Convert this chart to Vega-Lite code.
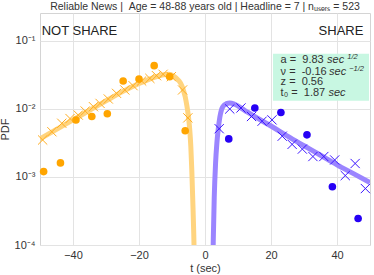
{
  "$schema": "https://vega.github.io/schema/vega-lite/v6.json",
  "width": 330,
  "height": 232,
  "autosize": {"type": "none"},
  "padding": {"left": 40, "top": 13, "right": 4, "bottom": 30},
  "background": "white",
  "title": {
    "text": "Reliable News | \u00a0Age = 48-88 years old | Headline = 7 | nᵤₛₑᵣₛ = 523",
    "font": "Liberation Sans",
    "fontSize": 10.5,
    "fontWeight": "normal",
    "color": "#333333",
    "anchor": "middle",
    "offset": 1
  },
  "config": {
    "view": {"stroke": "#d4d4d4", "strokeWidth": 1},
    "axis": {
      "labelFont": "Liberation Sans",
      "titleFont": "Liberation Sans",
      "labelFontSize": 11,
      "titleFontSize": 11,
      "titleFontWeight": "normal",
      "labelColor": "#333333",
      "titleColor": "#333333",
      "gridColor": "#e3e3e3",
      "gridWidth": 1,
      "domain": false,
      "ticks": false
    }
  },
  "datasets": {
    "fit": [
      {"side": "not", "t": -50, "pdf": 0.00363},
      {"side": "not", "t": -45, "pdf": 0.00501},
      {"side": "not", "t": -40, "pdf": 0.00692},
      {"side": "not", "t": -35, "pdf": 0.00955},
      {"side": "not", "t": -30, "pdf": 0.01318},
      {"side": "not", "t": -25, "pdf": 0.0180},
      {"side": "not", "t": -20, "pdf": 0.0237},
      {"side": "not", "t": -16, "pdf": 0.0285},
      {"side": "not", "t": -13, "pdf": 0.0316},
      {"side": "not", "t": -11, "pdf": 0.0324},
      {"side": "not", "t": -9.5, "pdf": 0.0305},
      {"side": "not", "t": -8, "pdf": 0.0263},
      {"side": "not", "t": -7, "pdf": 0.0219},
      {"side": "not", "t": -6.5, "pdf": 0.0186},
      {"side": "not", "t": -6, "pdf": 0.0151},
      {"side": "not", "t": -5.5, "pdf": 0.0112},
      {"side": "not", "t": -5, "pdf": 0.00759},
      {"side": "not", "t": -4.6, "pdf": 0.00479},
      {"side": "not", "t": -4.3, "pdf": 0.00282},
      {"side": "not", "t": -4.0, "pdf": 0.00126},
      {"side": "not", "t": -3.7, "pdf": 0.000447},
      {"side": "not", "t": -3.4, "pdf": 0.000141},
      {"side": "not", "t": -3.2, "pdf": 0.00005},
      {"side": "share", "t": 2.3, "pdf": 0.000025},
      {"side": "share", "t": 2.5, "pdf": 0.000112},
      {"side": "share", "t": 2.8, "pdf": 0.0005},
      {"side": "share", "t": 3.2, "pdf": 0.00158},
      {"side": "share", "t": 3.6, "pdf": 0.00316},
      {"side": "share", "t": 4.0, "pdf": 0.00501},
      {"side": "share", "t": 4.5, "pdf": 0.00759},
      {"side": "share", "t": 5.0, "pdf": 0.00977},
      {"side": "share", "t": 5.5, "pdf": 0.01096},
      {"side": "share", "t": 6.5, "pdf": 0.0120},
      {"side": "share", "t": 7.5, "pdf": 0.0123},
      {"side": "share", "t": 9, "pdf": 0.01175},
      {"side": "share", "t": 12, "pdf": 0.00955},
      {"side": "share", "t": 15, "pdf": 0.00776},
      {"side": "share", "t": 20, "pdf": 0.00562},
      {"side": "share", "t": 25, "pdf": 0.00398},
      {"side": "share", "t": 30, "pdf": 0.00288},
      {"side": "share", "t": 35, "pdf": 0.00209},
      {"side": "share", "t": 40, "pdf": 0.00151},
      {"side": "share", "t": 45, "pdf": 0.00112},
      {"side": "share", "t": 50, "pdf": 0.00083}
    ],
    "crosses": [
      {"side": "not", "t": -49.2, "pdf": 0.0035},
      {"side": "not", "t": -46.4, "pdf": 0.00463},
      {"side": "not", "t": -43.4, "pdf": 0.00617},
      {"side": "not", "t": -40.9, "pdf": 0.00724},
      {"side": "not", "t": -38.4, "pdf": 0.00813},
      {"side": "not", "t": -36.3, "pdf": 0.00933},
      {"side": "not", "t": -33.8, "pdf": 0.01081},
      {"side": "not", "t": -31.8, "pdf": 0.01208},
      {"side": "not", "t": -29.3, "pdf": 0.01403},
      {"side": "not", "t": -26.8, "pdf": 0.01698},
      {"side": "not", "t": -24.3, "pdf": 0.01905},
      {"side": "not", "t": -21.8, "pdf": 0.02203},
      {"side": "not", "t": -19.2, "pdf": 0.02582},
      {"side": "not", "t": -16.7, "pdf": 0.02818},
      {"side": "not", "t": -14.7, "pdf": 0.0309},
      {"side": "not", "t": -12.7, "pdf": 0.03236},
      {"side": "not", "t": -10.2, "pdf": 0.02985},
      {"side": "not", "t": -6.8, "pdf": 0.01905},
      {"side": "not", "t": -5.2, "pdf": 0.00741},
      {"side": "share", "t": 4.3, "pdf": 0.00513},
      {"side": "share", "t": 7.5, "pdf": 0.0100},
      {"side": "share", "t": 10.9, "pdf": 0.01035},
      {"side": "share", "t": 14.1, "pdf": 0.00776},
      {"side": "share", "t": 17.3, "pdf": 0.00661},
      {"side": "share", "t": 20.3, "pdf": 0.00692},
      {"side": "share", "t": 23.4, "pdf": 0.00398},
      {"side": "share", "t": 26.4, "pdf": 0.00302},
      {"side": "share", "t": 29.5, "pdf": 0.00257},
      {"side": "share", "t": 32.7, "pdf": 0.0020},
      {"side": "share", "t": 36.0, "pdf": 0.0020},
      {"side": "share", "t": 39.3, "pdf": 0.00178},
      {"side": "share", "t": 42.5, "pdf": 0.00105},
      {"side": "share", "t": 45.5, "pdf": 0.00158},
      {"side": "share", "t": 48.6, "pdf": 0.000676}
    ],
    "dots": [
      {"side": "not", "t": -48.9, "pdf": 0.0012},
      {"side": "not", "t": -43.8, "pdf": 0.00161},
      {"side": "not", "t": -39.1, "pdf": 0.0069},
      {"side": "not", "t": -34.3, "pdf": 0.00776},
      {"side": "not", "t": -29.6, "pdf": 0.0085},
      {"side": "not", "t": -24.8, "pdf": 0.0258},
      {"side": "not", "t": -20.0, "pdf": 0.0275},
      {"side": "not", "t": -15.4, "pdf": 0.0434},
      {"side": "not", "t": -10.7, "pdf": 0.0299},
      {"side": "not", "t": -6.0, "pdf": 0.00479},
      {"side": "share", "t": 7.2, "pdf": 0.00363},
      {"side": "share", "t": 15.1, "pdf": 0.01035},
      {"side": "share", "t": 23.0, "pdf": 0.0089},
      {"side": "share", "t": 30.9, "pdf": 0.00417},
      {"side": "share", "t": 38.6, "pdf": 0.00072},
      {"side": "share", "t": 46.4, "pdf": 0.000245}
    ],
    "box": [
      {"t1": 20.6, "t2": 49.7, "p1": 0.0132, "p2": 0.065}
    ],
    "labels": [
      {"t": -49.5, "pdf": 0.139, "label": "NOT SHARE", "align": "left"},
      {"t": 48.0, "pdf": 0.139, "label": "SHARE", "align": "right"}
    ],
    "boxtext": [
      {"t": 22.9, "pdf": 0.0531, "label": "a = \u00a09.83"},
      {"t": 22.9, "pdf": 0.0354, "label": "ν = \u00a0-0.16"},
      {"t": 22.9, "pdf": 0.0246, "label": "z = \u00a00.56"},
      {"t": 22.9, "pdf": 0.0172, "label": "t₀ = \u00a01.87"}
    ],
    "boxital": [
      {"t": 37.0, "pdf": 0.0531, "label": "sec"},
      {"t": 37.6, "pdf": 0.0354, "label": "sec"},
      {"t": 37.4, "pdf": 0.0172, "label": "sec"}
    ],
    "boxsup": [
      {"t": 43.1, "pdf": 0.0585, "label": "1/2"},
      {"t": 43.7, "pdf": 0.0392, "label": "−1/2"}
    ]
  },
  "encoding": {
    "x": {
      "field": "t", "type": "quantitative",
      "scale": {"domain": [-50, 50], "nice": false, "zero": false},
      "axis": {"values": [-40, -20, 0, 20, 40], "title": "t (sec)", "labelPadding": 4, "titlePadding": 2}
    },
    "y": {
      "field": "pdf", "type": "quantitative",
      "scale": {"type": "log", "domain": [0.0001, 0.258], "nice": false, "zero": false},
      "axis": {
        "values": [0.0001, 0.001, 0.01, 0.1],
        "title": "PDF",
        "labelPadding": 5,
        "titlePadding": 4,
        "labelExpr": "'10' + (datum.value < 0.0005 ? '⁻⁴' : datum.value < 0.005 ? '⁻³' : datum.value < 0.05 ? '⁻²' : '⁻¹')"
      }
    }
  },
  "layer": [
    {
      "data": {"name": "box"},
      "mark": {"type": "rect", "color": "#c8f7e2"},
      "encoding": {
        "x": {"field": "t1", "type": "quantitative"},
        "x2": {"field": "t2"},
        "y": {"field": "p1", "type": "quantitative"},
        "y2": {"field": "p2"}
      }
    },
    {
      "data": {"name": "fit"},
      "transform": [{"filter": "datum.side == 'not'"}],
      "mark": {"type": "line", "color": "#ffd47f", "strokeWidth": 5, "clip": true, "interpolate": "monotone"},
      "encoding": {"order": {"field": "t", "type": "quantitative"}}
    },
    {
      "data": {"name": "fit"},
      "transform": [{"filter": "datum.side == 'share'"}],
      "mark": {"type": "line", "color": "#9b85ff", "strokeWidth": 5, "clip": true, "interpolate": "monotone"},
      "encoding": {"order": {"field": "t", "type": "quantitative"}}
    },
    {
      "data": {"name": "crosses"},
      "transform": [{"filter": "datum.side == 'not'"}],
      "mark": {"type": "point", "shape": "M-1,-1L1,1M-1,1L1,-1", "filled": false, "color": "#ffad1f", "strokeWidth": 1, "size": 85, "opacity": 1}
    },
    {
      "data": {"name": "crosses"},
      "transform": [{"filter": "datum.side == 'share'"}],
      "mark": {"type": "point", "shape": "M-1,-1L1,1M-1,1L1,-1", "filled": false, "color": "#3a14ff", "strokeWidth": 1, "size": 85, "opacity": 1}
    },
    {
      "data": {"name": "dots"},
      "transform": [{"filter": "datum.side == 'not'"}],
      "mark": {"type": "circle", "color": "#ffa500", "size": 58, "opacity": 1}
    },
    {
      "data": {"name": "dots"},
      "transform": [{"filter": "datum.side == 'share'"}],
      "mark": {"type": "circle", "color": "#2600f5", "size": 58, "opacity": 1}
    },
    {
      "data": {"name": "labels"},
      "transform": [{"filter": "datum.align == 'left'"}],
      "mark": {"type": "text", "align": "left", "baseline": "middle", "font": "Liberation Sans", "fontSize": 13, "color": "#222222"},
      "encoding": {"text": {"field": "label"}}
    },
    {
      "data": {"name": "labels"},
      "transform": [{"filter": "datum.align == 'right'"}],
      "mark": {"type": "text", "align": "right", "baseline": "middle", "font": "Liberation Sans", "fontSize": 13, "color": "#222222"},
      "encoding": {"text": {"field": "label"}}
    },
    {
      "data": {"name": "boxtext"},
      "mark": {"type": "text", "align": "left", "baseline": "middle", "font": "Liberation Sans", "fontSize": 11, "color": "#333333"},
      "encoding": {"text": {"field": "label"}}
    },
    {
      "data": {"name": "boxital"},
      "mark": {"type": "text", "align": "left", "baseline": "middle", "font": "Liberation Sans", "fontSize": 11, "fontStyle": "italic", "color": "#333333"},
      "encoding": {"text": {"field": "label"}}
    },
    {
      "data": {"name": "boxsup"},
      "mark": {"type": "text", "align": "left", "baseline": "middle", "font": "Liberation Sans", "fontSize": 7.5, "fontStyle": "italic", "color": "#333333"},
      "encoding": {"text": {"field": "label"}}
    }
  ]
}
